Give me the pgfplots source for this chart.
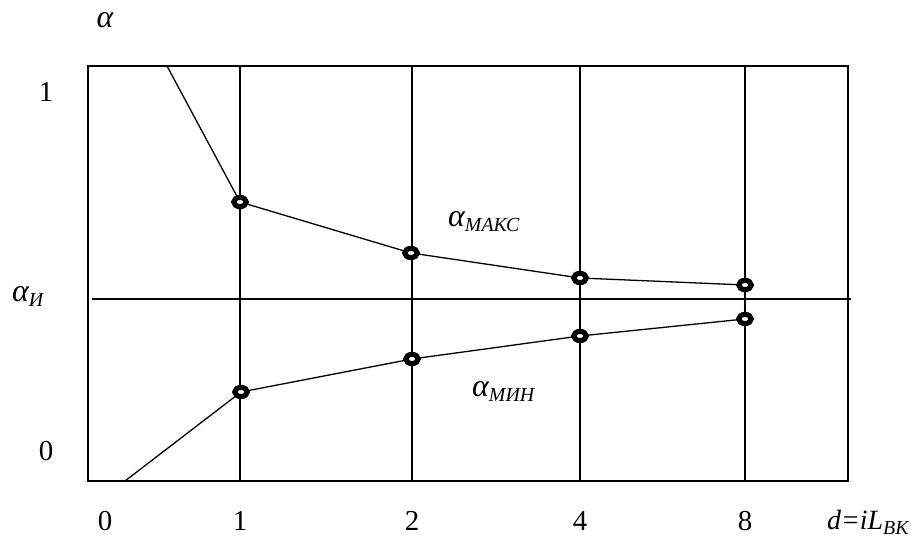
\documentclass[border=0pt]{standalone}
\usepackage{pgfplots}
\pgfplotsset{compat=1.18}
\usepackage{fontspec}
\setmainfont{Liberation Serif}
\newcommand{\sub}[1]{\raisebox{-5bp}{\fontsize{20}{24}\selectfont\itshape #1}}
\newcommand{\al}{{\fontsize{32}{36}\selectfont\itshape α}}
\begin{document}
\begin{tikzpicture}[x=1bp,y=1bp]
\useasboundingbox (0,0) rectangle (917,540);
\begin{axis}[
  at={(88bp,59bp)}, anchor=south west,
  scale only axis, width=760bp, height=415bp,
  xmin=88, xmax=848, ymin=59, ymax=474,
  axis line style={line width=1.6bp},
  xtick={240,412,580,745}, xticklabels={1,2,4,8},
  extra x ticks={105}, extra x tick labels={0}, extra x tick style={grid=none},
  ytick={89,448}, yticklabels={0,1},
  major tick length=0,
  xmajorgrids, grid style={black, line width=1.6bp},
  xticklabel style={anchor=center, yshift=-40bp},
  yticklabel style={anchor=center, xshift=-42bp},
  tick label style={font=\fontsize{29}{33}\selectfont},
  /pgf/number format/assume math mode=true,
  clip=false,
]
\addplot[black, line width=1.6bp] coordinates {(92,241)(851,241)};
\addplot[black, line width=1.3bp, mark=*, mark indices={2,3,4,5}, mark size=4.6bp,
  mark options={fill=white, draw=black, line width=5.2bp, xscale=1.35}]
  coordinates {(167,474)(240,338)(411,287)(580,262)(745,255)};
\addplot[black, line width=1.3bp, mark=*, mark indices={2,3,4,5}, mark size=4.6bp,
  mark options={fill=white, draw=black, line width=5.2bp, xscale=1.35}]
  coordinates {(125,59)(241,148)(412,181)(580,204)(745,221)};
\node[anchor=center] at (axis cs:105,520) {\al};
\node[anchor=west, inner sep=0pt] at (axis cs:12,244) {\al\sub{И}};
\node[anchor=west, inner sep=0pt] at (axis cs:448,318) {\al\sub{МАКС}};
\node[anchor=west, inner sep=0pt] at (axis cs:472,149) {\al\sub{МИН}};
\node[anchor=west, inner sep=0pt] at (axis cs:827,18) {\fontsize{28}{32}\selectfont\itshape d=iL\sub{ВК}};
\end{axis}
\end{tikzpicture}
\end{document}
